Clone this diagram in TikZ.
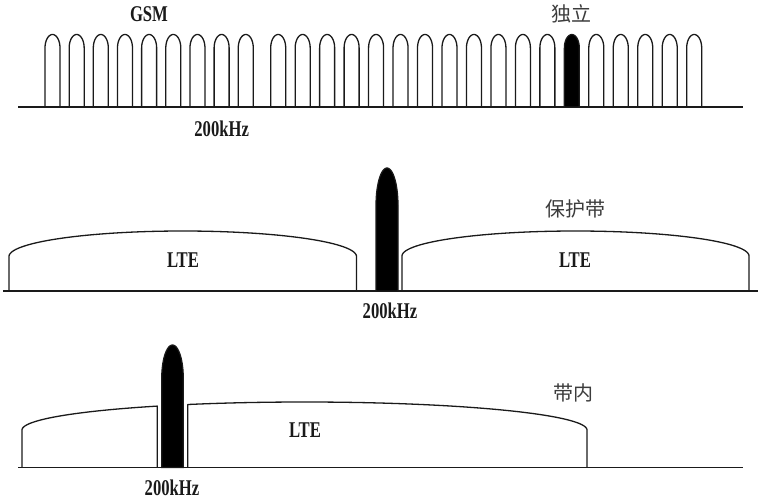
\documentclass[tikz,border=0pt]{standalone}
\usepackage{fontspec}
\setmainfont[FakeStretch=0.74]{Liberation Serif}
\newfontfamily\cjk{Noto Sans CJK SC}
\definecolor{ink}{HTML}{1A1A1A}
\begin{document}
\begin{tikzpicture}[x=1pt,y=-1pt,
  baseln/.style={line width=1.5pt, draw=ink},
  curveline/.style={line width=1.3pt, draw=ink, line join=round},
  blackpeak/.style={line width=1.2pt, draw=ink, fill=black},
  lab/.style={inner sep=0pt, text=ink, font=\bfseries\fontsize{22.5}{26}\selectfont},
  cjklab/.style={inner sep=0pt, text=ink!85, font=\cjk\fontsize{20}{24}\selectfont}]
\useasboundingbox (0,0) rectangle (761,500);

% ---------- top: GSM standalone ----------
\coordinate (t1) at (18,107);
\coordinate (t2) at (743,107);
\draw[baseln] (t1) -- (t2);
\foreach \i in {0,...,8}{
  \pgfmathsetmacro\xa{45+24.16*\i}
  \draw[curveline] (\xa,107) -- plot[domain=180:0,samples=25] ({\xa+7.5+7.5*cos(\x)},{48-13.5*sin(\x)}) -- ({\xa+15},107);
}
\foreach \j in {0,...,17}{
  \pgfmathsetmacro\xa{270.7+24.47*\j}
  \ifnum\j=12
    \draw[blackpeak] (\xa,107) -- plot[domain=180:0,samples=25] ({\xa+7.5+7.5*cos(\x)},{48-13.5*sin(\x)}) -- ({\xa+15},107) -- cycle;
  \else
    \draw[curveline] (\xa,107) -- plot[domain=180:0,samples=25] ({\xa+7.5+7.5*cos(\x)},{48-13.5*sin(\x)}) -- ({\xa+15},107);
  \fi
}
\node[lab] (gsm) at (149,14) {GSM};
\node[lab] (f1) at (221.7,129) {200kHz};
\node[cjklab] (duli) at (571.7,14) {独立};

% ---------- middle: guard band ----------
\coordinate (m1) at (3,291);
\coordinate (m2) at (758,291);
\draw[baseln] (m1) -- (m2);
\draw[curveline] (9,291) -- plot[domain=180:0,samples=80] ({182.75+173.75*cos(\x)},{256.5-25.5*sin(\x)}) -- (356.5,291);
\draw[curveline] (402,291) -- plot[domain=180:0,samples=80] ({575.5+173.5*cos(\x)},{256-25*sin(\x)}) -- (749,291);
\draw[blackpeak] (376,291) -- plot[domain=180:0,samples=30] ({387+11*cos(\x)},{205-37*sin(\x)}) -- (398,291) -- cycle;
\node[lab] (lte1) at (183,260.2) {LTE};
\node[lab] (lte2) at (575,260.2) {LTE};
\node[lab] (f2) at (390,311) {200kHz};
\node[cjklab] (baohu) at (575.7,209) {保护带};

% ---------- bottom: in-band ----------
\coordinate (u1) at (18,467.5);
\coordinate (u2) at (743,467.5);
\draw[baseln] (u1) -- (u2);
\draw[curveline] (22,467.5) -- plot[domain=180:121.4,samples=50] ({304.5+282.5*cos(\x)},{430-28*sin(\x)}) -- (157.3,467.5);
\draw[curveline] (187.7,467.5) -- plot[domain=114.4:0,samples=80] ({304.5+282.5*cos(\x)},{430-28*sin(\x)}) -- (587,467.5);
\draw[blackpeak] (161.7,467.5) -- plot[domain=180:0,samples=30] ({172.5+10.8*cos(\x)},{378-33*sin(\x)}) -- (183.3,467.5) -- cycle;
\node[lab] (lte3) at (305,430) {LTE};
\node[lab] (f3) at (172,488) {200kHz};
\node[cjklab] (dainei) at (573.7,393) {带内};
\end{tikzpicture}
\end{document}
